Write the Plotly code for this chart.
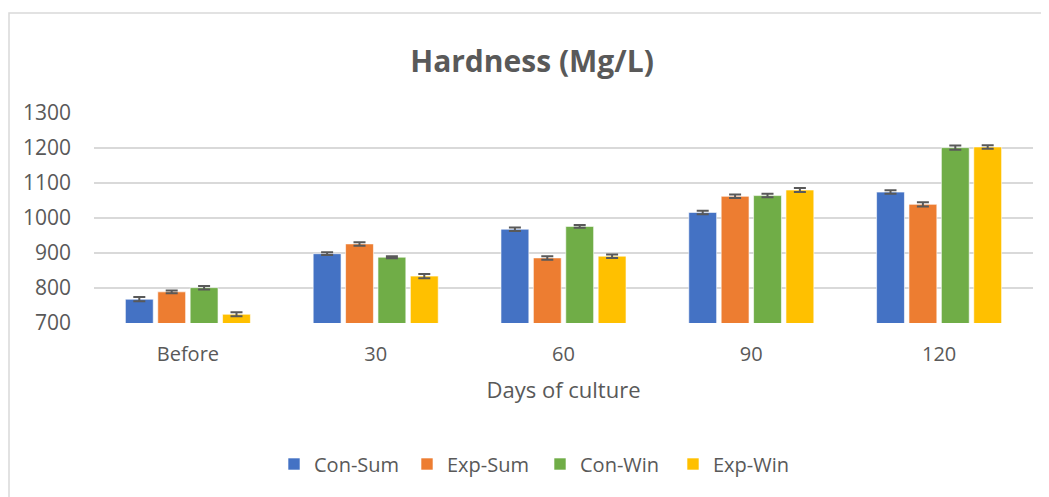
import plotly.graph_objects as go

categories = ["Before", "30", "60", "90", "120"]
series_names = ["Con-Sum", "Exp-Sum", "Con-Win", "Exp-Win"]
con_sum = [768, 898, 968, 1016, 1074]
exp_sum = [789, 926, 886, 1062, 1039]
con_win = [801, 888, 976, 1064, 1201]
exp_win = [725, 834, 891, 1080, 1203]
con_sum_err = [6, 4, 5, 5, 5]
exp_sum_err = [4, 5, 5, 5, 6]
con_win_err = [5, 3, 4, 5, 6]
exp_win_err = [6, 6, 5, 6, 5]
y_ticks = [700, 800, 900, 1000, 1100, 1200, 1300]

colors = ["#4472C4", "#ED7D31", "#70AD47", "#FFC000"]
values = [con_sum, exp_sum, con_win, exp_win]
errors = [con_sum_err, exp_sum_err, con_win_err, exp_win_err]

FONT = "Open Sans"
GRAY = "#595959"

fig = go.Figure()
for name, vals, errs, col in zip(series_names, values, errors, colors):
    fig.add_trace(go.Bar(
        name=name, x=categories, y=vals,
        marker=dict(color=col, line=dict(color="rgba(255,255,255,0.6)", width=1)),
        error_y=dict(type="data", array=errs, visible=True,
                     color=GRAY, thickness=2, width=6),
    ))

# page body has an 8px margin: work in figure coordinates = screen - 8
OFF = 8
W, H = 1049 - OFF, 497 - OFF
L, R, T, B = 94 - OFF, W - (1033 - OFF), 113 - OFF, H - (323 - OFF)
pw = W - L - R
ph = H - T - B


def px_x(X):
    return (X - OFF - L) / pw


def px_y(Y):
    return (T + ph - (Y - OFF)) / ph


fig.update_layout(
    width=W, height=H,
    margin=dict(l=L, r=R, t=T, b=B),
    paper_bgcolor="white", plot_bgcolor="white",
    barmode="group", bargap=0.31, bargroupgap=0.14,
    font=dict(family=FONT, color=GRAY, size=20),
    title=dict(text="<b>Hardness (Mg/L)</b>", font=dict(family=FONT, size=30, color=GRAY),
               x=(532 - OFF) / W, xanchor="center", xref="container",
               y=1 - (61 - OFF) / H, yanchor="middle", yref="container"),
    showlegend=True,
    legend=dict(orientation="h", xref="container", x=(540 - OFF) / W, xanchor="center",
                yref="container", y=1 - (464 - OFF) / H, yanchor="middle",
                font=dict(family=FONT, size=20, color=GRAY),
                entrywidth=88, entrywidthmode="pixels", traceorder="normal"),
    xaxis=dict(showgrid=False, showline=False, ticks="", tickfont=dict(size=20, color=GRAY),
               ticklabelstandoff=17,
               title=dict(text="Days of culture", font=dict(size=22, color=GRAY), standoff=16)),
    yaxis=dict(range=[700, 1300], tickvals=y_ticks, showgrid=True, gridcolor="#D9D9D9",
               gridwidth=1.5, zeroline=False, showline=False, ticks="",
               tickfont=dict(size=21, color=GRAY), ticklabelstandoff=22),
    shapes=[dict(type="rect", xref="paper", yref="paper",
                 x0=(1 - L) / pw, x1=px_x(1060),
                 y0=px_y(510), y1=px_y(13),
                 line=dict(color="#D9D9D9", width=1.5), fillcolor="rgba(0,0,0,0)", layer="below")],
)

fig.write_html("out.html")
